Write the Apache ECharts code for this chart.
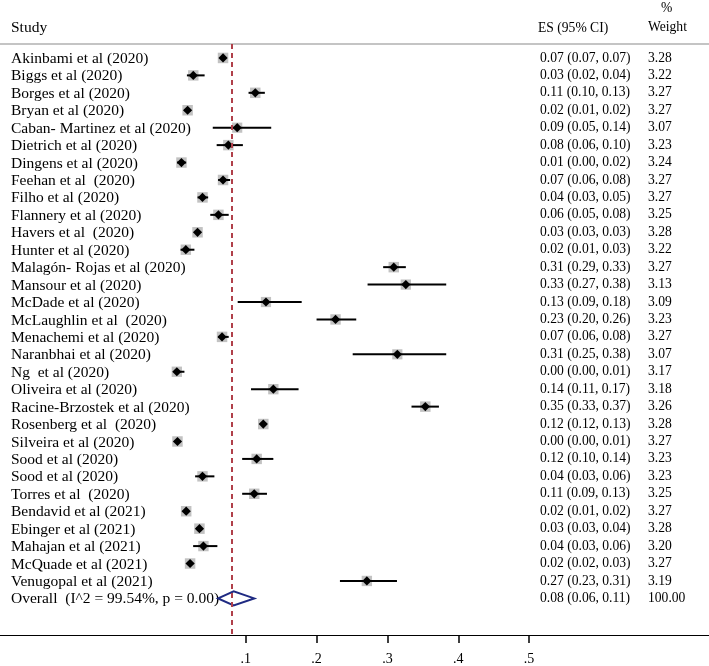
<!DOCTYPE html>
<html>
<head>
<meta charset="utf-8">
<script src="https://cdn.jsdelivr.net/npm/echarts@6/dist/echarts.min.js"></script>
<style>html,body{margin:0;padding:0;background:#fff;}#chart{width:709px;height:666px;}</style>
</head>
<body>
<div id="chart"></div>
<script>
const studies = [
  'Akinbami et al (2020)', 'Biggs et al (2020)', 'Borges et al (2020)', 'Bryan et al (2020)',
  'Caban- Martinez et al (2020)', 'Dietrich et al (2020)', 'Dingens et al (2020)', 'Feehan et al  (2020)',
  'Filho et al (2020)', 'Flannery et al (2020)', 'Havers et al  (2020)', 'Hunter et al (2020)',
  'Malagón- Rojas et al (2020)', 'Mansour et al (2020)', 'McDade et al (2020)', 'McLaughlin et al  (2020)',
  'Menachemi et al (2020)', 'Naranbhai et al (2020)', 'Ng  et al (2020)', 'Oliveira et al (2020)',
  'Racine-Brzostek et al (2020)', 'Rosenberg et al  (2020)', 'Silveira et al (2020)', 'Sood et al (2020)',
  'Sood et al (2020)', 'Torres et al  (2020)', 'Bendavid et al (2021)', 'Ebinger et al (2021)',
  'Mahajan et al (2021)', 'McQuade et al (2021)', 'Venugopal et al (2021)'
];
const es = [0.068, 0.026, 0.1135, 0.018, 0.088, 0.0755, 0.0093, 0.068, 0.039, 0.0615, 0.032, 0.0155,
  0.309, 0.326, 0.1286, 0.2268, 0.0666, 0.314, 0.0028, 0.139, 0.3535, 0.1248, 0.0037, 0.1155,
  0.039, 0.112, 0.016, 0.0347, 0.0403, 0.0215, 0.271];
const lo = [0.066, 0.017, 0.104, 0.013, 0.0535, 0.059, 0.003, 0.061, 0.032, 0.050, 0.030, 0.008,
  0.294, 0.272, 0.0887, 0.200, 0.061, 0.251, 0.000, 0.1075, 0.334, 0.121, 0.001, 0.095,
  0.0286, 0.095, 0.011, 0.030, 0.0258, 0.018, 0.233];
const hi = [0.070, 0.042, 0.127, 0.022, 0.136, 0.096, 0.016, 0.078, 0.047, 0.076, 0.034, 0.0276,
  0.326, 0.383, 0.179, 0.256, 0.076, 0.383, 0.0135, 0.1746, 0.3727, 0.128, 0.007, 0.139,
  0.0558, 0.130, 0.019, 0.039, 0.060, 0.026, 0.3135];
const ciText = [
  '0.07 (0.07, 0.07)', '0.03 (0.02, 0.04)', '0.11 (0.10, 0.13)', '0.02 (0.01, 0.02)',
  '0.09 (0.05, 0.14)', '0.08 (0.06, 0.10)', '0.01 (0.00, 0.02)', '0.07 (0.06, 0.08)',
  '0.04 (0.03, 0.05)', '0.06 (0.05, 0.08)', '0.03 (0.03, 0.03)', '0.02 (0.01, 0.03)',
  '0.31 (0.29, 0.33)', '0.33 (0.27, 0.38)', '0.13 (0.09, 0.18)', '0.23 (0.20, 0.26)',
  '0.07 (0.06, 0.08)', '0.31 (0.25, 0.38)', '0.00 (0.00, 0.01)', '0.14 (0.11, 0.17)',
  '0.35 (0.33, 0.37)', '0.12 (0.12, 0.13)', '0.00 (0.00, 0.01)', '0.12 (0.10, 0.14)',
  '0.04 (0.03, 0.06)', '0.11 (0.09, 0.13)', '0.02 (0.01, 0.02)', '0.03 (0.03, 0.04)',
  '0.04 (0.03, 0.06)', '0.02 (0.02, 0.03)', '0.27 (0.23, 0.31)'
];
const weights = [3.28, 3.22, 3.27, 3.27, 3.07, 3.23, 3.24, 3.27, 3.27, 3.25, 3.28, 3.22,
  3.27, 3.13, 3.09, 3.23, 3.27, 3.07, 3.17, 3.18, 3.26, 3.28, 3.27, 3.23,
  3.23, 3.25, 3.27, 3.28, 3.20, 3.27, 3.19];
const overallLabel = 'Overall  (I^2 = 99.54%, p = 0.00)';
const overallEs = 0.083, overallLo = 0.061, overallHi = 0.112;
const overallCiText = '0.08 (0.06, 0.11)';
const overallWeight = 100.00;
const xTicks = [0.1, 0.2, 0.3, 0.4, 0.5];
const xTickLabels = ['.1', '.2', '.3', '.4', '.5'];
const headers = { study: 'Study', es: 'ES (95% CI)', pct: '%', weight: 'Weight' };

const FONT_NAME = '15.5px "Liberation Serif", "Times New Roman", serif';
const FONT_COL = '13.6px "Liberation Serif", "Times New Roman", serif';
const X_NAME = 11, X_ES = 540, X_W = 648;

function txt(s, x, y, font) {
  return { type: 'text', style: { text: s, x: x, y: y, font: font, fill: '#000', align: 'left', verticalAlign: 'middle' } };
}

const chart = echarts.init(document.getElementById('chart'), null, { renderer: 'canvas' });
const studyData = studies.map((s, i) => [es[i], lo[i], hi[i], i, weights[i]]);
const nRows = studies.length;

chart.setOption({
  animation: false,
  backgroundColor: '#fff',
  grid: { left: 0, right: 0, top: 44, bottom: 27, containLabel: false },
  xAxis: [{
    type: 'value', min: -0.2468, max: 0.7539, position: 'bottom',
    axisLine: { show: true, onZero: false, lineStyle: { color: '#000', width: 1.2 } },
    axisTick: { show: true, customValues: xTicks, length: 8, lineStyle: { color: '#000', width: 1.5 } },
    axisLabel: { show: true, customValues: xTicks, margin: 17,
      formatter: v => xTickLabels[xTicks.findIndex(t => Math.abs(t - v) < 1e-9)] || '',
      fontFamily: '"Liberation Serif", serif', fontSize: 14, color: '#000' },
    splitLine: { show: false }
  }, {
    type: 'value', min: -0.2468, max: 0.7539, position: 'top',
    axisLine: { show: true, onZero: false, lineStyle: { color: '#c4c4c4', width: 2 } },
    axisTick: { show: false }, axisLabel: { show: false }, splitLine: { show: false }
  }],
  yAxis: { type: 'value', min: -0.8, max: 33.1, inverse: true, show: false },
  series: [{
    type: 'custom',
    xAxisIndex: 0,
    data: studyData,
    clip: false,
    renderItem: function (params, api) {
      const i = api.value(3);
      const c = api.coord([api.value(0), i]);
      const l = api.coord([api.value(1), i]);
      const h = api.coord([api.value(2), i]);
      const side = 10.5 * Math.sqrt(api.value(4) / 3.28);
      const d = 4.6;
      return {
        type: 'group',
        children: [
          { type: 'rect', shape: { x: c[0] - side / 2, y: c[1] - side / 2, width: side, height: side }, style: { fill: '#c2c2c2' } },
          { type: 'line', shape: { x1: l[0], y1: l[1], x2: h[0], y2: h[1] }, style: { stroke: '#000', lineWidth: 2 } },
          { type: 'polygon', shape: { points: [[c[0] - d, c[1]], [c[0], c[1] - d], [c[0] + d, c[1]], [c[0], c[1] + d]] }, style: { fill: '#000' } },
          txt(studies[i], X_NAME, c[1] + 1, FONT_NAME),
          txt(ciText[i], X_ES, c[1], FONT_COL),
          txt(api.value(4).toFixed(2), X_W, c[1], FONT_COL)
        ]
      };
    },
    markLine: {
      silent: true, symbol: 'none', label: { show: false },
      lineStyle: { color: '#b0404a', type: [5, 4], width: 2 },
      data: [{ xAxis: overallEs }]
    }
  }, {
    type: 'custom',
    xAxisIndex: 0,
    data: [[overallEs, overallLo, overallHi, nRows, overallWeight]],
    clip: false,
    z: 3,
    renderItem: function (params, api) {
      const i = api.value(3);
      const c = api.coord([api.value(0), i]);
      const l = api.coord([api.value(1), i]);
      const h = api.coord([api.value(2), i]);
      const dh = 7;
      return {
        type: 'group',
        children: [
          txt(overallLabel, X_NAME, c[1] + 1, FONT_NAME),
          txt(overallCiText, X_ES, c[1], FONT_COL),
          txt(api.value(4).toFixed(2), X_W, c[1], FONT_COL),
          { type: 'polygon', shape: { points: [[l[0], c[1]], [c[0], c[1] - dh], [h[0], c[1]], [c[0], c[1] + dh]] },
            style: { fill: 'rgba(255,255,255,0)', stroke: '#1f2a82', lineWidth: 2 } }
        ]
      };
    }
  }],
  graphic: [
    txt(headers.study, X_NAME, 28, FONT_NAME),
    txt(headers.es, X_ES - 2, 28, FONT_COL),
    txt(headers.pct, X_W + 13, 8, FONT_COL),
    txt(headers.weight, X_W, 27, FONT_COL)
  ]
});
</script>
</body>
</html>
